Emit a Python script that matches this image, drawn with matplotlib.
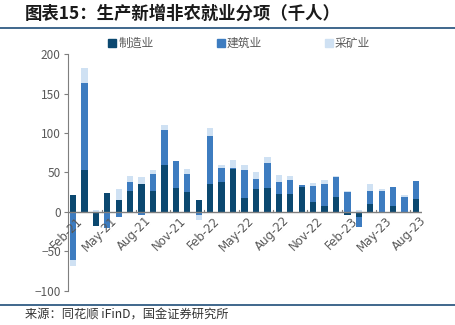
import numpy as np
import matplotlib
matplotlib.use("Agg")
import matplotlib.pyplot as plt
from matplotlib.lines import Line2D

plt.rcParams['font.family'] = ['Noto Sans CJK SC', 'DejaVu Sans']

months = ['Feb-21', 'Mar-21', 'Apr-21', 'May-21', 'Jun-21', 'Jul-21', 'Aug-21', 'Sep-21',
          'Oct-21', 'Nov-21', 'Dec-21', 'Jan-22', 'Feb-22', 'Mar-22', 'Apr-22', 'May-22',
          'Jun-22', 'Jul-22', 'Aug-22', 'Sep-22', 'Oct-22', 'Nov-22', 'Dec-22', 'Jan-23',
          'Feb-23', 'Mar-23', 'Apr-23', 'May-23', 'Jun-23', 'Jul-23', 'Aug-23']
manufacturing = [22, 53, -18, 24, 15, 27, 36, 26, 59, 30, 25, 15, 36, 38, 55, 18,
                 29, 30, 23, 23, 32, 13, 8, 19, -4, -7, 10, -2, 7, -2, 16]
construction = [-61, 110, 0, -20, -6, 11, -4, 22, 45, 34, 23, -4, 60, 18, 1, 35,
                13, 32, 15, 17, 2, 20, 28, 25, 25, -12, 16, 27, 24, 19, 23]
mining = [-8, 20, 2, 0, 14, 8, 8, 5, 6, -2, 6, -6, 10, 4, 10, 7,
          8, 8, 9, 5, 0, 4, 4, 2, 1, 2, 9, 2, -2, 2, -2]

series = [('制造业', manufacturing, '#0b4870'),
          ('建筑业', construction, '#3d7cc0'),
          ('采矿业', mining, '#cfe1f3')]

fig = plt.figure(figsize=(4.55, 3.25), dpi=100)
ax = fig.add_axes([0.149, 0.1055, 0.778, 0.7275])

x = np.arange(len(months))
pos = np.zeros(len(months))
neg = np.zeros(len(months))
for name, vals, color in series:
    v = np.array(vals, dtype=float)
    bottom = np.where(v >= 0, pos, neg)
    ax.bar(x, v, 0.55, bottom=bottom, color=color, label=name, zorder=2)
    pos = pos + np.where(v >= 0, v, 0)
    neg = neg + np.where(v < 0, v, 0)

ax.set_xlim(-0.45, 30.5)
ax.set_ylim(-100, 200)
ax.set_yticks(np.arange(-100, 201, 50))
ax.axhline(0, color='#7f7f7f', lw=1.0, zorder=3)

for s in ['top', 'right', 'bottom']:
    ax.spines[s].set_visible(False)
ax.spines['left'].set_color('#7f7f7f')
ax.tick_params(axis='y', colors='#7f7f7f', labelcolor='#595959', labelsize=8.5,
               length=3, width=0.8, pad=2)

ax.set_xticks(x[::3])
ax.set_xticklabels([])
ax.tick_params(axis='x', length=0)
for xi in x[::3]:
    ax.text(xi + 0.3, -3, months[xi], rotation=45, ha='right', va='top',
            rotation_mode='anchor', fontsize=8.5, color='#595959',
            family=['DejaVu Sans'])
    if xi > 0:
        ax.plot([xi - 0.5, xi - 0.5], [0, 2.5], color='#7f7f7f', lw=0.8, zorder=3)

handles = [Line2D([0], [0], marker='s', ls='', markersize=6, color=c, label=n)
           for n, _, c in series]
fig.legend(handles=handles, loc='center', bbox_to_anchor=(0.525, 0.866), ncol=3,
           frameon=False, fontsize=8.5, labelcolor='#595959', columnspacing=5.3,
           handletextpad=0.1, handlelength=0.8)

fig.text(0.055, 0.957, '图表15：生产新增非农就业分项（千人）', fontsize=12.5,
         fontweight='bold', color='#1a1a1a', va='center')
fig.add_artist(Line2D([0, 1], [0.914, 0.914], color='#1f4e79', lw=1.2))
fig.add_artist(Line2D([0, 1], [0.0615, 0.0615], color='#1f4e79', lw=1.2))
fig.text(0.055, 0.031, '来源：同花顺 iFinD，国金证券研究所', fontsize=8.8,
         color='#333333', va='center')

fig.savefig('out.png', dpi=100)
